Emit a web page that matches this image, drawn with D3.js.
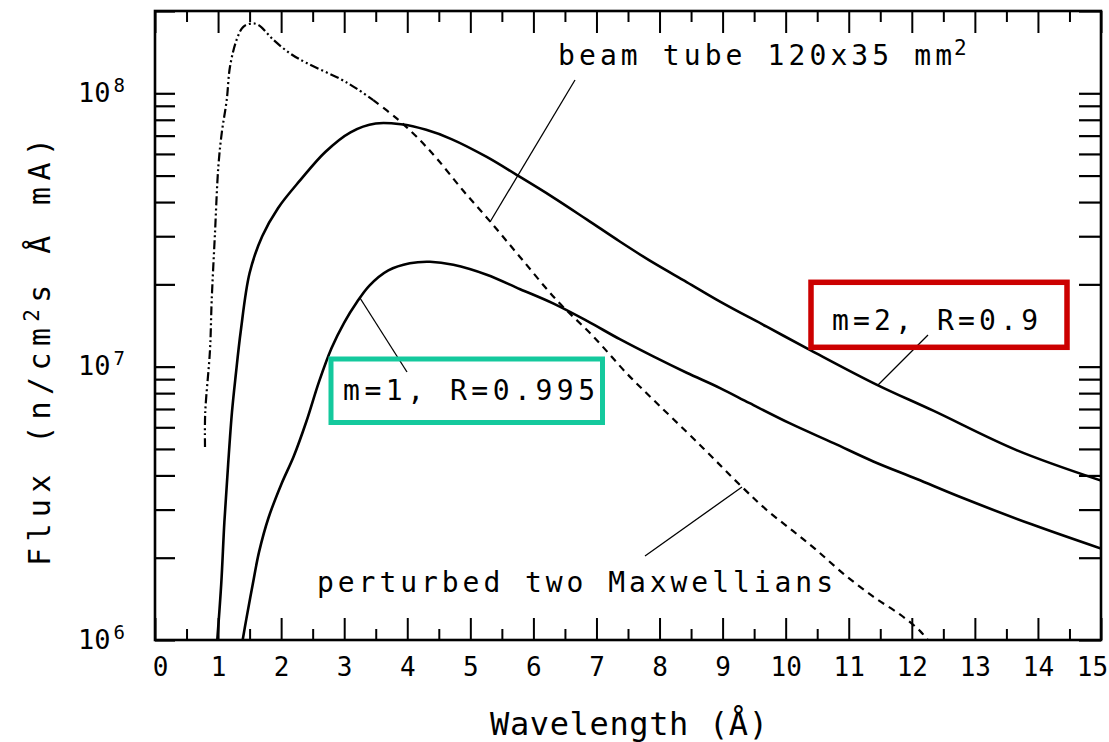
<!DOCTYPE html>
<html><head><meta charset="utf-8">
<script src="https://cdn.jsdelivr.net/npm/d3@7"></script>
<style>body{margin:0;background:#fff}</style>
</head><body>
<svg id="c" width="1109" height="742"></svg>
<script>
// ---------------- data ----------------
const xTickValues = d3.range(0, 16);
const xTickLabels = xTickValues.map(String);
const xMinorValues = d3.range(0.5, 15, 1);
const yDecades = [1e6, 1e7, 1e8];
const yTickExponents = ["6", "7", "8"];

// beam tube 120x35 mm^2 (dash-dot then dashed)
const beamWavelength = [0.793,0.796,0.872,0.899,0.951,1.004,1.058,1.137,1.189,1.295,1.400,1.533,1.638,1.876,2.140,2.405,2.933,3.198,3.461,3.832,4.149,4.466,4.888,5.312,5.787,6.369,6.949,7.479,7.796,8.641,9.302,9.699,10.120,10.491,10.913,11.389,11.812,12.129,12.30];
const beamFlux = [5.08e6,6.76e6,1.15e7,1.75e7,3.08e7,5.38e7,7.15e7,9.44e7,1.25e8,1.57e8,1.75e8,1.80e8,1.78e8,1.57e8,1.40e8,1.29e8,1.13e8,1.04e8,9.44e7,8.09e7,6.93e7,5.78e7,4.40e7,3.40e7,2.52e7,1.75e7,1.29e7,9.45e6,7.99e6,5.17e6,3.64e6,2.99e6,2.50e6,2.13e6,1.75e6,1.44e6,1.24e6,1.08e6,0.97e6];
const beamSplit = 3.461;

// m=2, R=0.9
const m2Wavelength = [0.98,1.05,1.10,1.16,1.22,1.28,1.36,1.50,1.70,1.95,2.30,2.70,3.10,3.50,3.90,4.30,4.70,5.26,5.74,6.30,6.85,7.37,7.90,8.43,8.96,9.70,10.39,11.44,12.34,13.66,15.0];
const m2Flux = [0.95e6,1.6e6,2.7e6,4.4e6,6.8e6,9.3e6,1.35e7,2.2e7,3.0e7,3.8e7,4.8e7,6.1e7,7.2e7,7.75e7,7.7e7,7.35e7,6.8e7,5.85e7,5.02e7,4.18e7,3.45e7,2.87e7,2.40e7,2.04e7,1.73e7,1.40e7,1.15e7,8.6e6,6.9e6,4.95e6,3.83e6];

// m=1, R=0.995
const m1Wavelength = [1.38,1.45,1.55,1.65,1.80,2.00,2.20,2.40,2.60,2.80,3.00,3.20,3.40,3.70,4.04,4.36,4.73,5.26,5.79,6.32,6.85,7.37,7.90,8.43,8.96,9.43,10.07,10.76,11.39,12.08,12.76,13.90,15.0];
const m1Flux = [0.97e6,1.2e6,1.6e6,2.1e6,2.8e6,3.7e6,4.7e6,6.3e6,8.8e6,1.17e7,1.45e7,1.72e7,1.98e7,2.25e7,2.39e7,2.42e7,2.36e7,2.17e7,1.92e7,1.70e7,1.47e7,1.26e7,1.09e7,9.5e6,8.35e6,7.35e6,6.2e6,5.25e6,4.5e6,3.88e6,3.34e6,2.65e6,2.16e6];

// ---------------- chart ----------------
const L = 155, R = 1101, B = 640, T = 11;
const FONT = "'DejaVu Sans Mono', monospace";
const svg = d3.select("#c");
const x = d3.scaleLinear().domain([0, 15]).range([L, R]);
const y = d3.scaleLog().domain([1e6, 2e8]).range([B, T]);

svg.append("defs").append("clipPath").attr("id", "clip").append("rect")
  .attr("x", L).attr("y", T).attr("width", R - L).attr("height", B - T);

function styleAxis(g, w) {
  g.select(".domain").remove();
  g.selectAll(".tick line").attr("stroke", "#000").attr("stroke-width", w);
}
// x axis ticks (bottom and top), pointing inward
svg.append("g").attr("transform", `translate(0,${B})`)
  .call(d3.axisBottom(x).tickValues(xTickValues).tickSize(-22).tickPadding(18)
    .tickFormat((d, i) => xTickLabels[i]))
  .call(g => styleAxis(g, 2))
  .call(g => g.selectAll(".tick text").attr("font-family", FONT).attr("font-size", 26)
    .attr("fill", "#000")
    .attr("dx", d => d === 0 ? 5 : (d === 15 ? -9 : 0)));
svg.append("g").attr("transform", `translate(0,${B})`)
  .call(d3.axisBottom(x).tickValues(xMinorValues).tickSize(-11).tickFormat(""))
  .call(g => styleAxis(g, 2));
svg.append("g").attr("transform", `translate(0,${T})`)
  .call(d3.axisTop(x).tickValues(xTickValues).tickSize(-22).tickFormat(""))
  .call(g => styleAxis(g, 2));
svg.append("g").attr("transform", `translate(0,${T})`)
  .call(d3.axisTop(x).tickValues(xMinorValues).tickSize(-11).tickFormat(""))
  .call(g => styleAxis(g, 2));

// y axis ticks: decades and minors, left and right
const yAll = [];
for (const d of yDecades) for (let k = 1; k <= 9; k++) if (d * k <= 2e8) yAll.push(d * k);
svg.append("g").attr("transform", `translate(${L},0)`)
  .call(d3.axisLeft(y).tickValues(yAll).tickSize(-20).tickFormat(""))
  .call(g => styleAxis(g, 2.2));
svg.append("g").attr("transform", `translate(${R},0)`)
  .call(d3.axisRight(y).tickValues(yAll).tickSize(-22).tickFormat(""))
  .call(g => styleAxis(g, 2.2));

// y tick labels 10^n
const yl = svg.append("g");
yDecades.forEach((d, i) => {
  const t = yl.append("text").attr("font-family", FONT).attr("fill", "#000")
    .attr("x", 78).attr("y", y(d) + 8.5);
  t.append("tspan").attr("font-size", 27).text("10");
  t.append("tspan").attr("font-size", 19).attr("dx", 3).attr("dy", -10).text(yTickExponents[i]);
});

// frame
svg.append("rect").attr("x", L).attr("y", T).attr("width", R - L).attr("height", B - T)
  .attr("fill", "none").attr("stroke", "#000").attr("stroke-width", 2.6);

// curves
const line = d3.line().x(d => x(d[0])).y(d => y(d[1])).curve(d3.curveCatmullRom.alpha(0.5));
const plot = svg.append("g").attr("clip-path", "url(#clip)");
const beam = beamWavelength.map((w, i) => [w, beamFlux[i]]);
plot.append("path").datum(beam.filter(d => d[0] <= beamSplit))
  .attr("d", line).attr("fill", "none").attr("stroke", "#000").attr("stroke-width", 2.2)
  .attr("stroke-dasharray", "9,3,2,3,2,3");
plot.append("path").datum(beam.filter(d => d[0] >= beamSplit))
  .attr("d", line).attr("fill", "none").attr("stroke", "#000").attr("stroke-width", 2.2)
  .attr("stroke-dasharray", "7,5.5");
plot.append("path").datum(m2Wavelength.map((w, i) => [w, m2Flux[i]]))
  .attr("d", line).attr("fill", "none").attr("stroke", "#000").attr("stroke-width", 2.6);
plot.append("path").datum(m1Wavelength.map((w, i) => [w, m1Flux[i]]))
  .attr("d", line).attr("fill", "none").attr("stroke", "#000").attr("stroke-width", 2.6);

// leader lines
const leaders = [[575, 80, 490, 222], [645, 556, 742, 487], [360, 298, 407, 372], [928, 335, 878, 385]];
svg.append("g").selectAll("line").data(leaders).join("line")
  .attr("x1", d => d[0]).attr("y1", d => d[1]).attr("x2", d => d[2]).attr("y2", d => d[3])
  .attr("stroke", "#000").attr("stroke-width", 1.3);

// boxes
svg.append("rect").attr("x", 331).attr("y", 359).attr("width", 271.5).attr("height", 63.5)
  .attr("fill", "none").attr("stroke", "#14c99d").attr("stroke-width", 5);
svg.append("rect").attr("x", 811).attr("y", 282.3).attr("width", 256).attr("height", 65)
  .attr("fill", "none").attr("stroke", "#cc0000").attr("stroke-width", 5.5);

// texts with fitted letter-spacing
function fitText(sel, width) {
  const w = sel.node().getComputedTextLength();
  const n = sel.text().length;
  sel.attr("letter-spacing", (width - w) / (n - 1));
}
function label(txt, x0, x1, yb, size) {
  const t = svg.append("text").attr("font-family", FONT).attr("font-size", size)
    .attr("fill", "#000").attr("x", x0).attr("y", yb).text(txt);
  fitText(t, x1 - x0);
  return t;
}
label("beam tube 120x35 mm", 558, 952, 65, 28);
svg.append("text").attr("font-family", FONT).attr("font-size", 21).attr("x", 954).attr("y", 55).text("2");
label("perturbed two Maxwellians", 317, 833, 592, 28);
label("m=1, R=0.995", 343, 595, 400, 28);
label("m=2, R=0.9", 832, 1038, 330, 28);
label("Wavelength (Å)", 490, 768, 735, 32);

// y title
const yt = svg.append("text").attr("font-family", FONT).attr("font-size", 30).attr("fill", "#000")
  .attr("transform", `translate(50,566) rotate(-90)`);
yt.append("tspan").text("Flux (n/cm");
yt.append("tspan").attr("font-size", 21).attr("dy", -11).text("2");
yt.append("tspan").attr("dy", 11).text("s Å mA)");
fitText(yt, 428);
</script>
</body></html>
